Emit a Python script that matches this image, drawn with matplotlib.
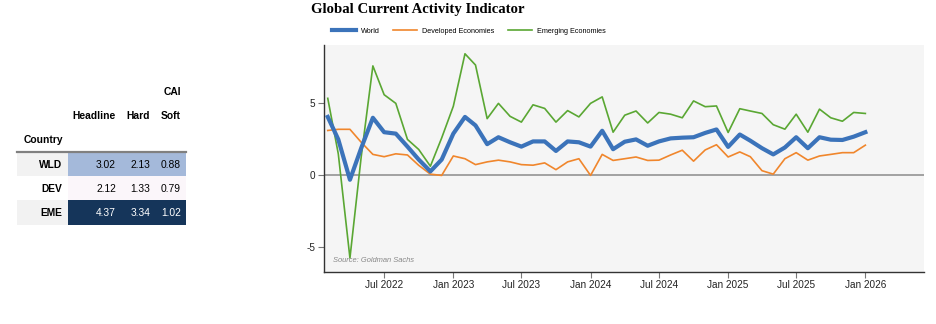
"""
Global Current Activity Indicator: summary table plus monthly lines
"""
import numpy as np
import pandas as pd
import matplotlib
matplotlib.use("Agg")
import matplotlib.pyplot as plt
import matplotlib.dates as mdates
from matplotlib.patches import Rectangle

# --- data -----------------------------------------------------------------
dates = pd.date_range("2022-02-01", periods=48, freq="MS")

world = [4.06, 2.5, -0.3, 1.9, 4.0, 3.0, 2.9, 2.0, 1.1, 0.28, 1.1, 2.9,
         4.06, 3.47, 2.17, 2.65, 2.3, 2.0, 2.36, 2.36, 1.7, 2.36, 2.3, 2.0,
         3.1, 1.82, 2.34, 2.5, 2.06, 2.36, 2.57, 2.62, 2.65, 2.95, 3.19, 1.98,
         2.84, 2.41, 1.89, 1.46, 1.94, 2.65, 1.89, 2.65, 2.48, 2.46, 2.69, 3.0]
developed = [3.12, 3.2, 3.2, 2.3, 1.46, 1.3, 1.5, 1.42, 0.7, 0.09, 0.0, 1.35,
             1.16, 0.75, 0.94, 1.06, 0.94, 0.75, 0.71, 0.87, 0.4, 0.94, 1.16, 0.0,
             1.46, 1.04, 1.16, 1.28, 1.04, 1.06, 1.42, 1.75, 0.99, 1.77, 2.13, 1.28,
             1.63, 1.3, 0.33, 0.09, 1.16, 1.58, 1.06, 1.35, 1.46, 1.58, 1.58, 2.1]
emerging = [5.35, 1.5, -5.73, 1.3, 7.6, 5.6, 5.0, 2.5, 1.8, 0.64, 2.6, 4.8,
            8.44, 7.66, 3.94, 5.0, 4.1, 3.7, 4.9, 4.65, 3.7, 4.5, 4.06, 5.0,
            5.45, 3.0, 4.18, 4.47, 3.64, 4.37, 4.25, 4.0, 5.17, 4.77, 4.82, 2.98,
            4.63, 4.47, 4.3, 3.52, 3.21, 4.25, 3.0, 4.6, 4.0, 3.76, 4.37, 4.3]

countries = ["WLD", "DEV", "EME"]
table_cols = ["Headline", "Hard", "Soft"]
headline = [3.02, 2.12, 4.37]
hard = [2.13, 1.33, 3.34]
soft = [0.88, 0.79, 1.02]
row_colors = ["#a4b9da", "#fbf6fa", "#15355a"]
text_colors = ["#000000", "#000000", "#ffffff"]

BLUE, ORANGE, GREEN = "#3b73ba", "#f0862c", "#5aa733"

W, H = 936, 324


def fx(px):
    return px / W


def fy(py):
    return 1 - py / H


fig = plt.figure(figsize=(W / 100, H / 100), dpi=100)
fig.patch.set_facecolor("white")

# --- table (drawn by hand, pixel layout) ----------------------------------
tfont = dict(family=["Liberation Sans", "DejaVu Sans"], fontsize=7.4)
fig.text(fx(181), fy(92), "CAI", ha="right", va="center", weight="bold", **tfont)
for name, xr in zip(table_cols, [116, 150, 181]):
    fig.text(fx(xr), fy(116), name, ha="right", va="center", weight="bold", **tfont)
fig.text(fx(63), fy(140), "Country", ha="right", va="center", weight="bold", **tfont)

row_top = [153, 176, 200]
row_h = [23, 24, 24.5]
for i, c in enumerate(countries):
    y0 = row_top[i]
    idx_bg = "#f2f2f2" if i != 1 else "#ffffff"
    fig.patches.append(Rectangle((fx(17), fy(y0 + row_h[i])), fx(68) - fx(17),
                                 row_h[i] / H, transform=fig.transFigure,
                                 facecolor=idx_bg, edgecolor="none"))
    fig.patches.append(Rectangle((fx(68), fy(y0 + row_h[i])), fx(186) - fx(68),
                                 row_h[i] / H, transform=fig.transFigure,
                                 facecolor=row_colors[i], edgecolor="none"))
    yc = y0 + row_h[i] / 2 + 0.5
    fig.text(fx(62), fy(yc), c, ha="right", va="center", weight="bold", **tfont)
    for v, xr in zip([headline[i], hard[i], soft[i]], [116, 150, 181]):
        fig.text(fx(xr), fy(yc), f"{v:.2f}", ha="right", va="center",
                 color=text_colors[i], **tfont)

fig.add_artist(plt.Line2D([fx(17), fx(186)], [fy(152), fy(152)],
                          transform=fig.transFigure, color="#808080", lw=1.6))

# --- line chart -------------------------------------------------------------
ax = fig.add_axes([fx(324), fy(272), fx(924) - fx(324), (272 - 45) / H])
ax.set_facecolor("#f5f5f5")

ax.axhline(0, color="#8a8a8a", lw=1.1, zorder=1)
l1, = ax.plot(dates, world, color=BLUE, lw=3.0, label="World", zorder=4)
l2, = ax.plot(dates, developed, color=ORANGE, lw=1.2,
              label="Developed Economies", zorder=3)
l3, = ax.plot(dates, emerging, color=GREEN, lw=1.2,
              label="Emerging Economies", zorder=3)

ax.set_xlim(pd.Timestamp("2022-01-22"), pd.Timestamp("2026-06-06"))
ax.set_ylim(-6.7, 9.05)
ax.set_yticks([-5, 0, 5])
ax.set_yticklabels(["-5", "0", "5"])

ax.xaxis.set_major_locator(mdates.MonthLocator(bymonth=[1, 7]))
ax.xaxis.set_major_formatter(mdates.DateFormatter("%b %Y"))
ax.set_xticks([d for d in ax.get_xticks()
               if mdates.num2date(d).replace(tzinfo=None) > pd.Timestamp("2022-03-01")])

for s in ["top", "right"]:
    ax.spines[s].set_visible(False)
for s in ["left", "bottom"]:
    ax.spines[s].set_color("#333333")
    ax.spines[s].set_linewidth(1.0)

ax.tick_params(axis="both", length=4, width=0.8, color="#777777",
               labelsize=7.2, labelcolor="#222222", pad=2)
for lab in ax.get_xticklabels() + ax.get_yticklabels():
    lab.set_family(["Liberation Sans", "DejaVu Sans"])

ax.text(0.015, 0.035, "Source: Goldman Sachs", transform=ax.transAxes,
        fontsize=5.4, style="italic", color="#888888",
        family=["Liberation Sans", "DejaVu Sans"], ha="left", va="bottom")

fig.text(fx(311), fy(10), "Global Current Activity Indicator", ha="left",
         va="center", fontsize=10.6, weight="bold",
         family=["Liberation Serif", "DejaVu Serif"])

fig.legend(handles=[l1, l2, l3], loc="center left",
           bbox_to_anchor=(fx(332), fy(31.5)), ncol=3, frameon=False,
           prop=dict(family=["Liberation Sans", "DejaVu Sans"], size=5.2),
           handlelength=3.3, handletextpad=0.7, columnspacing=1.9,
           borderaxespad=0, borderpad=0)

fig.savefig("out.png", dpi=100)
